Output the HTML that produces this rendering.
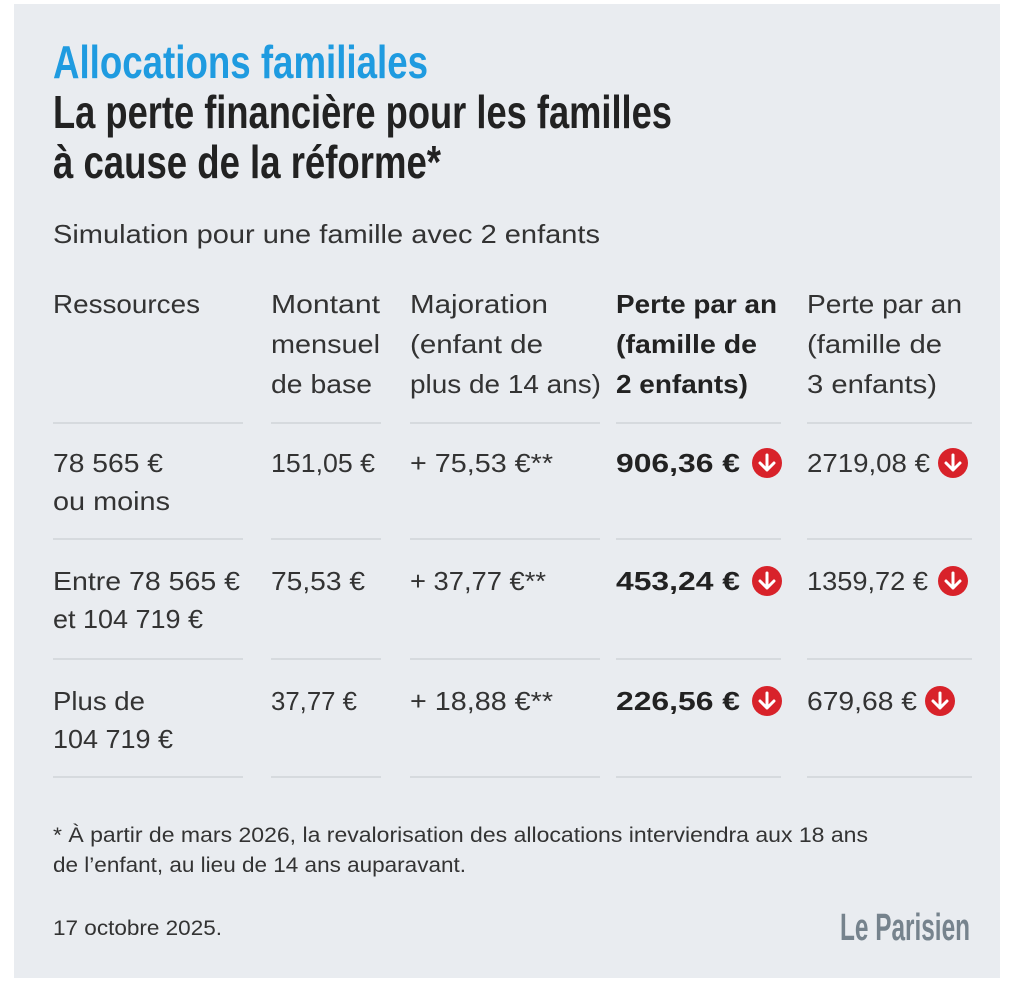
<!DOCTYPE html>
<html><head><meta charset="utf-8"><style>
html,body{margin:0;padding:0;background:#fff;}
svg{display:block;}
text{font-family:"Liberation Sans",sans-serif;}
</style></head><body>
<svg width="1009" height="986" viewBox="0 0 1009 986" xmlns="http://www.w3.org/2000/svg">
<rect x="14" y="4" width="986" height="974" fill="#e9ecf0"/>
<g font-weight="bold" font-size="46" lengthAdjust="spacingAndGlyphs">
<text x="53" y="78" fill="#1f9be0" textLength="375" lengthAdjust="spacingAndGlyphs">Allocations familiales</text>
<text x="53" y="128" fill="#222" textLength="619" lengthAdjust="spacingAndGlyphs">La perte financière pour les familles</text>
<text x="53" y="178" fill="#222" textLength="388" lengthAdjust="spacingAndGlyphs">à cause de la réforme*</text>
</g>
<g font-size="26" fill="#333">
<text x="53" y="243" textLength="547" lengthAdjust="spacingAndGlyphs">Simulation pour une famille avec 2 enfants</text>
<text x="53" y="313" textLength="147" lengthAdjust="spacingAndGlyphs">Ressources</text>
<text x="271" y="313" textLength="109" lengthAdjust="spacingAndGlyphs">Montant</text>
<text x="271" y="353" textLength="109" lengthAdjust="spacingAndGlyphs">mensuel</text>
<text x="271" y="393" textLength="101" lengthAdjust="spacingAndGlyphs">de base</text>
<text x="410" y="313" textLength="138" lengthAdjust="spacingAndGlyphs">Majoration</text>
<text x="410" y="353" textLength="133" lengthAdjust="spacingAndGlyphs">(enfant de</text>
<text x="410" y="393" textLength="191" lengthAdjust="spacingAndGlyphs">plus de 14 ans)</text>
<g font-weight="bold" fill="#222">
<text x="616" y="313" textLength="161" lengthAdjust="spacingAndGlyphs">Perte par an</text>
<text x="616" y="353" textLength="141" lengthAdjust="spacingAndGlyphs">(famille de</text>
<text x="616" y="393" textLength="132" lengthAdjust="spacingAndGlyphs">2 enfants)</text>
</g>
<text x="807" y="313" textLength="155" lengthAdjust="spacingAndGlyphs">Perte par an</text>
<text x="807" y="353" textLength="135" lengthAdjust="spacingAndGlyphs">(famille de</text>
<text x="807" y="393" textLength="130" lengthAdjust="spacingAndGlyphs">3 enfants)</text>

<text x="53" y="472" textLength="110" lengthAdjust="spacingAndGlyphs">78 565 €</text>
<text x="53" y="510" textLength="117" lengthAdjust="spacingAndGlyphs">ou moins</text>
<text x="271" y="472" textLength="104" lengthAdjust="spacingAndGlyphs">151,05 €</text>
<text x="410" y="472" textLength="143" lengthAdjust="spacingAndGlyphs">+ 75,53 €**</text>
<text x="616" y="472" font-weight="bold" fill="#222" textLength="124" lengthAdjust="spacingAndGlyphs">906,36 €</text>
<text x="807" y="472" textLength="123" lengthAdjust="spacingAndGlyphs">2719,08 €</text>

<text x="53" y="590" textLength="187" lengthAdjust="spacingAndGlyphs">Entre 78 565 €</text>
<text x="53" y="628" textLength="150" lengthAdjust="spacingAndGlyphs">et 104 719 €</text>
<text x="271" y="590" textLength="94" lengthAdjust="spacingAndGlyphs">75,53 €</text>
<text x="410" y="590" textLength="136" lengthAdjust="spacingAndGlyphs">+ 37,77 €**</text>
<text x="616" y="590" font-weight="bold" fill="#222" textLength="124" lengthAdjust="spacingAndGlyphs">453,24 €</text>
<text x="807" y="590" textLength="121" lengthAdjust="spacingAndGlyphs">1359,72 €</text>

<text x="53" y="710" textLength="92" lengthAdjust="spacingAndGlyphs">Plus de</text>
<text x="53" y="748" textLength="120" lengthAdjust="spacingAndGlyphs">104 719 €</text>
<text x="271" y="710" textLength="86" lengthAdjust="spacingAndGlyphs">37,77 €</text>
<text x="410" y="710" textLength="143" lengthAdjust="spacingAndGlyphs">+ 18,88 €**</text>
<text x="616" y="710" font-weight="bold" fill="#222" textLength="124" lengthAdjust="spacingAndGlyphs">226,56 €</text>
<text x="807" y="710" textLength="110" lengthAdjust="spacingAndGlyphs">679,68 €</text>
</g>
<g stroke="#d6dade" stroke-width="2">
<line x1="53" y1="423" x2="243" y2="423"/><line x1="271" y1="423" x2="381" y2="423"/><line x1="410" y1="423" x2="600" y2="423"/><line x1="616" y1="423" x2="781" y2="423"/><line x1="807" y1="423" x2="972" y2="423"/>
<line x1="53" y1="539" x2="243" y2="539"/><line x1="271" y1="539" x2="381" y2="539"/><line x1="410" y1="539" x2="600" y2="539"/><line x1="616" y1="539" x2="781" y2="539"/><line x1="807" y1="539" x2="972" y2="539"/>
<line x1="53" y1="659" x2="243" y2="659"/><line x1="271" y1="659" x2="381" y2="659"/><line x1="410" y1="659" x2="600" y2="659"/><line x1="616" y1="659" x2="781" y2="659"/><line x1="807" y1="659" x2="972" y2="659"/>
<line x1="53" y1="777" x2="243" y2="777"/><line x1="271" y1="777" x2="381" y2="777"/><line x1="410" y1="777" x2="600" y2="777"/><line x1="616" y1="777" x2="781" y2="777"/><line x1="807" y1="777" x2="972" y2="777"/>
</g>
<defs>
<g id="ic"><circle r="15" fill="#d8222a"/><path d="M0,-8 V7 M-7,0 L0,7 L7,0" stroke="#fff" stroke-width="3" fill="none" stroke-linecap="round" stroke-linejoin="round"/></g>
</defs>
<use href="#ic" x="767" y="463"/><use href="#ic" x="953" y="463"/>
<use href="#ic" x="767" y="581"/><use href="#ic" x="953" y="581"/>
<use href="#ic" x="767" y="701"/><use href="#ic" x="940" y="701"/>
<g font-size="21" fill="#333">
<text x="53" y="842" textLength="815" lengthAdjust="spacingAndGlyphs">* À partir de mars 2026, la revalorisation des allocations interviendra aux 18 ans</text>
<text x="53" y="872" textLength="413" lengthAdjust="spacingAndGlyphs">de l’enfant, au lieu de 14 ans auparavant.</text>
<text x="53" y="935" textLength="169" lengthAdjust="spacingAndGlyphs">17 octobre 2025.</text>
</g>
<text x="840" y="940" font-size="38" font-weight="bold" fill="#76838d" textLength="130" lengthAdjust="spacingAndGlyphs">Le Parisien</text>
</svg>
</body></html>
